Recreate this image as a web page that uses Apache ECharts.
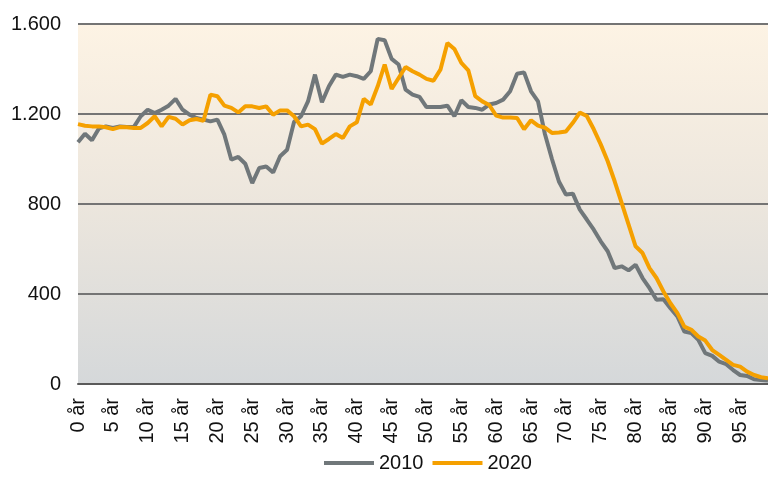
<!DOCTYPE html>
<html>
<head>
<meta charset="utf-8">
<script src="https://cdn.jsdelivr.net/npm/echarts@6/dist/echarts.min.js"></script>
<style>
html,body{margin:0;padding:0;background:#fff;}
#chart{width:768px;height:491px;}
</style>
</head>
<body>
<div id="chart"></div>
<script>
// Categories: ages 0..99
var categories = [];
for (var a = 0; a < 100; a++) { categories.push(a + ' år'); }

var seriesNames = ['2010', '2020'];

var values2010 = [
  1074, 1112, 1083, 1136, 1145, 1138, 1145, 1142, 1142, 1190,
  1219, 1204, 1219, 1237, 1267, 1219, 1197, 1182, 1175, 1167,
  1175, 1108, 997, 1009, 979, 893, 960, 967, 940, 1012,
  1041, 1165, 1190, 1256, 1375, 1252, 1323, 1375, 1365, 1375,
  1368, 1356, 1390, 1534, 1528, 1445, 1420, 1308, 1286, 1276,
  1231, 1231, 1231, 1237, 1190, 1261, 1231, 1227, 1219, 1242,
  1249, 1264, 1301, 1379, 1385, 1301, 1256, 1110, 1000, 900,
  842, 846, 775, 731, 686, 634, 590, 515, 523, 505,
  530, 471, 426, 374, 377, 337, 300, 233, 226, 196,
  137, 125, 99, 88, 62, 40, 36, 21, 18, 15
];

var values2020 = [
  1155, 1148, 1145, 1145, 1141, 1133, 1142, 1141, 1138, 1138,
  1160, 1190, 1145, 1187, 1179, 1153, 1172, 1178, 1170, 1286,
  1279, 1237, 1227, 1207, 1234, 1234, 1227, 1234, 1197, 1216,
  1216, 1190, 1145, 1153, 1133, 1068, 1089, 1111, 1093, 1145,
  1163, 1267, 1242, 1323, 1420, 1311, 1360, 1409, 1390, 1375,
  1356, 1348, 1397, 1516, 1489, 1427, 1394, 1279, 1256, 1240,
  1193, 1184, 1184, 1182, 1132, 1172, 1148, 1139, 1116, 1118,
  1122, 1161, 1206, 1191, 1132, 1065, 990, 901, 805, 708,
  612, 582, 515, 471, 411, 359, 315, 255, 241, 211,
  193, 151, 129, 107, 85, 77, 55, 40, 30, 25
];

var yTicks = [0, 400, 800, 1200, 1600];

var chart = echarts.init(document.getElementById('chart'), null, {renderer: 'canvas'});

function fmt(v) {
  return String(v).replace(/\B(?=(\d{3})+(?!\d))/g, '.');
}

var FONT = '"Liberation Sans", Arial, sans-serif';

chart.setOption({
  animation: false,
  backgroundColor: '#ffffff',
  textStyle: {fontFamily: FONT},
  grid: {
    left: 78,
    right: -3,
    top: 24,
    bottom: 107,
    show: true,
    borderWidth: 0,
    backgroundColor: {
      type: 'linear', x: 0, y: 0, x2: 0, y2: 1,
      colorStops: [
        {offset: 0, color: '#fdf3e4'},
        {offset: 0.5, color: '#ece6dd'},
        {offset: 1, color: '#d5d8da'}
      ]
    }
  },
  legend: {
    data: seriesNames,
    left: 319,
    top: 448,
    icon: 'rect',
    itemWidth: 50,
    itemHeight: 4,
    itemGap: 9,
    textStyle: {fontFamily: FONT, fontSize: 20, color: '#111'}
  },
  xAxis: {
    type: 'category',
    data: categories,
    boundaryGap: false,
    axisLine: {show: true, lineStyle: {color: '#5a5a5a', width: 2}},
    axisTick: {show: false},
    axisLabel: {
      interval: 4,
      rotate: 90,
      margin: 14,
      fontSize: 20,
      color: '#111',
      fontFamily: FONT
    },
    splitLine: {show: false}
  },
  yAxis: {
    type: 'value',
    min: yTicks[0],
    max: yTicks[yTicks.length - 1],
    interval: 400,
    axisLine: {show: false},
    axisTick: {show: false},
    axisLabel: {
      margin: 17,
      fontSize: 20,
      color: '#111',
      fontFamily: FONT,
      formatter: function (v) { return fmt(v); }
    },
    splitLine: {show: true, lineStyle: {color: '#747474', width: 2}}
  },
  series: [
    {
      name: seriesNames[0],
      type: 'line',
      data: values2010,
      showSymbol: false,
      symbol: 'none',
      lineStyle: {color: '#70777a', width: 4},
      itemStyle: {color: '#70777a'},
      z: 2
    },
    {
      name: seriesNames[1],
      type: 'line',
      data: values2020,
      showSymbol: false,
      symbol: 'none',
      lineStyle: {color: '#f5a000', width: 4},
      itemStyle: {color: '#f5a000'},
      z: 3
    }
  ]
});
</script>
</body>
</html>
